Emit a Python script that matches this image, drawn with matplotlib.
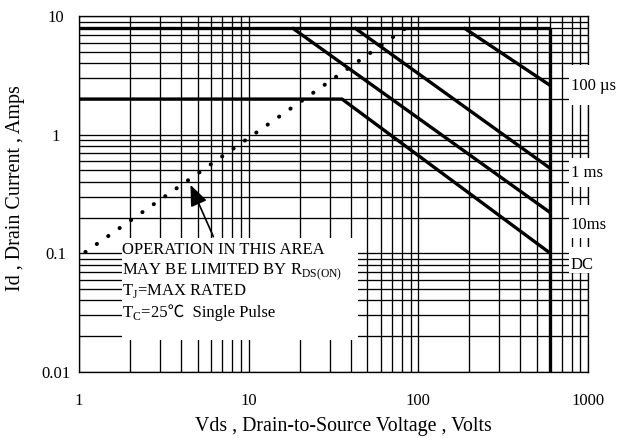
"""Safe operating area: Id vs Vds, log-log, datasheet style"""

import matplotlib
matplotlib.use("Agg")
import matplotlib.pyplot as plt
from matplotlib.patches import Rectangle
from matplotlib.ticker import FixedLocator, LogLocator, NullFormatter

plt.rcParams['font.family'] = ['Liberation Serif', 'Noto Sans CJK JP', 'DejaVu Serif']
plt.rcParams['mathtext.fontset'] = 'custom'
plt.rcParams['mathtext.rm'] = 'Liberation Serif'

# --- данные ---
x_ticks = [1, 10, 100, 1000]
x_tick_labels = ['1', '10', '100', '1000']
y_ticks = [0.01, 0.1, 1, 10]
y_tick_labels = ['0.01', '0.1', '1', '10']

v_limit = [1, 600]          # верхний предел тока
i_limit = [8, 8]
v_vds_max = [600, 600]      # предел по напряжению
i_vds_max = [0.01, 8]

v_dc = [1, 35.5, 600]
i_dc = [2, 2, 0.1]
v_10ms = [18, 600]
i_10ms = [8, 0.22]
v_1ms = [42, 600]
i_1ms = [8, 0.52]
v_100us = [185, 600]
i_100us = [8, 2.6]

v_rds = [1, 85]             # ограничение RDS(on)
i_rds = [0.094, 8]

curve_labels = ['100 µs', '1 ms', '10ms', 'DC']
label_y = [2.59, 0.48, 0.174, 0.08]
label_box_y = [(1.79, 3.9), (0.364, 0.64), (0.135, 0.257), (0.0685, 0.113)]

note_lines = [
    'OPERATION IN THIS AREA',
    r'MAY BE LIMITED BY R$_{\mathrm{DS(ON)}}$',
    r'T$_{\mathrm{J}}$=MAX RATED',
    r'T$_{\mathrm{C}}$=',
]
note_tail = '25℃  Single Pulse'
note_y = [0.099, 0.0659, 0.0447, 0.0291]

fig = plt.figure(figsize=(6.17, 4.38), dpi=100)
ax = fig.add_axes([0.128, 0.151, 0.825, 0.812])
ax.set_xscale('log')
ax.set_yscale('log')
ax.set_xlim(1, 1000)
ax.set_ylim(0.01, 10)

ax.xaxis.set_major_locator(FixedLocator(x_ticks))
ax.set_xticklabels(x_tick_labels)
ax.yaxis.set_major_locator(FixedLocator(y_ticks))
ax.set_yticklabels(y_tick_labels)
for axis in (ax.xaxis, ax.yaxis):
    axis.set_minor_locator(LogLocator(base=10, subs=range(2, 10), numticks=20))
    axis.set_minor_formatter(NullFormatter())

ax.tick_params(which='both', length=0, labelsize=12)
ax.tick_params(axis='x', pad=15.5)
ax.tick_params(axis='y', pad=16.5)
for lbl in ax.get_yticklabels():
    lbl.set_horizontalalignment('center')

ax.grid(which='both', color='black', lw=0.95)
for sp in ax.spines.values():
    sp.set_linewidth(0.95)

# белые "вырезы" в сетке под подписи
ax.add_patch(Rectangle((1.80, 0.0186), 44.2 - 1.80, 0.135 - 0.0186,
                       facecolor='white', edgecolor='none', zorder=2.6))
for (y0, y1) in label_box_y:
    ax.add_patch(Rectangle((773, y0), 1400 - 773, y1 - y0, facecolor='white',
                           edgecolor='none', zorder=2.6, clip_on=False))

thick = dict(color='black', lw=2.4, zorder=4, solid_capstyle='butt')
ax.plot(v_limit, i_limit, **thick)
ax.plot(v_vds_max, i_vds_max, **thick)
ax.plot(v_dc, i_dc, **thick)
ax.plot(v_10ms, i_10ms, **thick)
ax.plot(v_1ms, i_1ms, **thick)
ax.plot(v_100us, i_100us, **thick)
ax.plot(v_rds, i_rds, color='black', lw=2.9, linestyle=(1.5, (0.05, 3.4)),
        dash_capstyle='round', zorder=4)

for text, y in zip(curve_labels, label_y):
    ax.text(790, y, text, fontsize=12, ha='left', va='center', zorder=5)

note_texts = []
for text, y in zip(note_lines, note_y):
    t = ax.text(1.80, y, text, fontsize=12, ha='left', va='baseline', zorder=5)
    note_texts.append(t)

# хвост последней строки (℃ берём из CJK-шрифта) ставим сразу за "TC="
renderer = fig.canvas.get_renderer()
bb = note_texts[-1].get_window_extent(renderer)
x_tail = ax.transData.inverted().transform((bb.x1, 0))[0]
ax.text(x_tail, note_y[-1], note_tail, fontsize=12, ha='left', va='baseline', zorder=5)

ax.annotate('', xy=(4.54, 0.378), xytext=(6.2, 0.138),
            arrowprops=dict(arrowstyle='-|>,head_length=0.85,head_width=0.35',
                            color='black', lw=1.2, mutation_scale=15,
                            shrinkA=0, shrinkB=0), zorder=5)

ax.set_xlabel('Vds , Drain-to-Source Voltage , Volts', fontsize=14.3)
ax.set_ylabel('Id , Drain Current , Amps', fontsize=14.5)
ax.xaxis.label.set_verticalalignment('center')
ax.yaxis.label.set_verticalalignment('center')
ax.xaxis.set_label_coords(0.519, -0.154)
ax.yaxis.set_label_coords(-0.124, 0.517)

fig.savefig('out.png', dpi=100)
